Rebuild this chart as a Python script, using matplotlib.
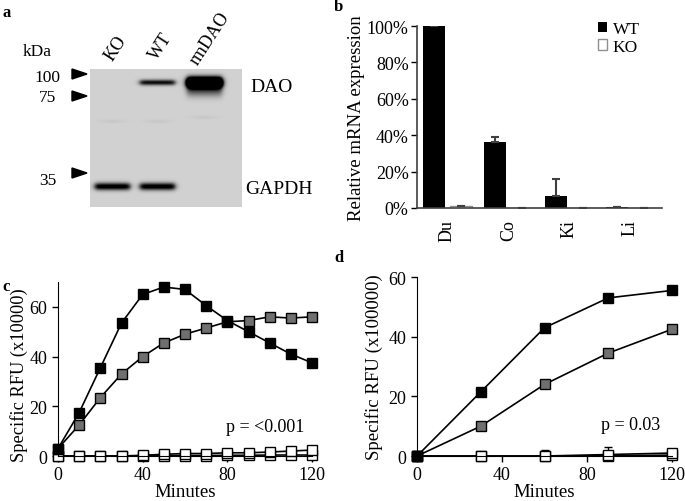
import numpy as np
import matplotlib
matplotlib.use("Agg")
from matplotlib import pyplot as plt
from matplotlib.patches import Polygon
from matplotlib.ticker import PercentFormatter

plt.rcParams["font.family"] = ["Liberation Serif", "DejaVu Serif"]
plt.rcParams["font.size"] = 13
plt.rcParams["axes.labelsize"] = 13.5

# ---- data ----
# panel a: western blot
lanes = ["KO", "WT", "rmDAO"]
kda_marks = ["100", "75", "35"]
band_lane = [1, 2, 2, 0, 1]
band_row = [13, 13, 21, 117, 117]
band_strength = [0.95, 3.0, 0.55, 1.1, 1.1]
band_thick = [2.0, 3.6, 4.5, 2.6, 2.6]

# panel b: relative mRNA expression
tissues = ["Du", "Co", "Ki", "Li"]
wt_expr = [1.00, 0.36, 0.065, 0.003]
wt_err = [0.0, 0.03, 0.095, 0.0]
ko_expr = [0.01, 0.0, 0.0, 0.0]
ko_err = [0.003, 0.0, 0.0, 0.0]

# panel c: kinetics, 10 min steps
t_c = [0, 10, 20, 30, 40, 50, 60, 70, 80, 90, 100, 110, 120]
c_black = [3, 17.5, 35.5, 53.5, 65, 68, 67, 60.5, 54.5, 50, 45.5, 41, 37.5]
c_gray = [3, 12.5, 23.5, 33, 40, 45.5, 49, 51.5, 54, 54.5, 56, 55.5, 56]
c_white = [0, 0, 0, 0, 0.3, 0.7, 1.0, 1.0, 1.3, 1.3, 1.6, 2.0, 2.4]
c_white2 = [0, 0, 0, 0, 0, 0.1, 0.2, 0.2, 0.3, 0.3, 0.4, 0.4, 0.4]

# panel d: kinetics, 30 min steps
t_d = [0, 30, 60, 90, 120]
d_black = [0, 21.5, 43, 53, 55.5]
d_gray = [0, 10, 24, 34.5, 42.5]
d_white = [0, 0, 0, 0.5, 1.0]
d_white_err = [0, 1.2, 2.0, 2.5, 0.3]
d_white2 = [0, 0, 0, 0.1, 0.3]

fig = plt.figure(figsize=(6.85, 5.02), dpi=100)

# ---- panel a (drawn in pixel coordinates) ----
axa = fig.add_axes([0, 0, 1, 1])
blot_h, blot_w = 138, 152
lane_x = [22, 67, 114]
rows = np.arange(blot_h)[:, None]
cols = np.arange(blot_w)[None, :]
dark = np.zeros((blot_h, blot_w))
for ln, r0, s, th in zip(band_lane, band_row, band_strength, band_thick):
    xprof = 1 / (1 + np.exp(-(17.5 - np.abs(cols - lane_x[ln])) / 1.5))
    yprof = np.exp(-0.5 * ((rows - r0) / th) ** 2)
    dark += s * xprof * yprof
# faint smudges between the bands
for lx, r0 in zip(lane_x, [52, 52, 48]):
    xprof = np.exp(-0.5 * ((cols - lx) / 9) ** 2)
    dark += 0.05 * xprof * np.exp(-0.5 * ((rows - r0) / 1.2) ** 2)
img = 0.82 - 0.82 * np.clip(dark, 0, 1)
axa.imshow(img, cmap="gray", vmin=0, vmax=1, extent=(90, 242, 208, 70),
           aspect="auto", interpolation="bilinear")
axa.set_xlim(0, 685)
axa.set_ylim(502, 0)
axa.axis("off")

for lab, x, y in zip(lanes, [116, 160, 201], [64, 63, 68]):
    axa.text(x, y, lab, rotation=57, rotation_mode="anchor",
             ha="left", va="bottom", fontsize=13)
axa.text(37, 52, "kDa", ha="center", va="center", fontsize=12.5)
for lab, ty, ay in zip(kda_marks, [78, 98, 181], [75, 97, 174]):
    axa.text(60 if lab == "100" else 56, ty, lab, ha="right", va="center",
             fontsize=12.5)
    axa.add_patch(Polygon([[72, ay - 5], [72, ay + 5], [87, ay]],
                          closed=True, color="black"))
axa.text(250, 87, "DAO", ha="left", va="center", fontsize=14)
axa.text(245, 190, "GAPDH", ha="left", va="center", fontsize=14)

fig.text(0.004, 0.975, "a", fontweight="bold", fontsize=12, va="center")
fig.text(0.488, 0.986, "b", fontweight="bold", fontsize=12, va="center")
fig.text(0.004, 0.428, "c", fontweight="bold", fontsize=12, va="center")
fig.text(0.488, 0.486, "d", fontweight="bold", fontsize=12, va="center")

# ---- panel b ----
axb = fig.add_axes([0.6088, 0.5837, 0.3577, 0.3625])
x = np.arange(len(tissues))
axb.bar(x - 0.22, wt_expr, 0.36, color="black", label="WT",
        yerr=[np.zeros(4), wt_err], capsize=3,
        error_kw=dict(ecolor="#404040", elinewidth=1.5, capthick=1.5))
axb.bar(x + 0.22, ko_expr, 0.36, color="white", edgecolor="#909090",
        linewidth=1, label="KO", yerr=[np.zeros(4), ko_err], capsize=3,
        error_kw=dict(ecolor="#404040", elinewidth=1.5, capthick=1.5))
axb.set_xlim(-0.5, 3.52)
axb.set_ylim(0, 1)
axb.set_yticks(np.arange(0, 1.01, 0.2))
axb.yaxis.set_major_formatter(PercentFormatter(1, decimals=0))
axb.set_xticks(x)
axb.set_xticklabels(tissues, rotation=90)
axb.tick_params(axis="x", length=0, pad=8)
axb.tick_params(axis="y", length=4, width=1, pad=2)
for s in ["top", "right"]:
    axb.spines[s].set_visible(False)
for s in ["left", "bottom"]:
    axb.spines[s].set_color("#404040")
    axb.spines[s].set_linewidth(1.2)
axb.set_ylabel("Relative mRNA expression", labelpad=1)
axb.legend(loc="upper left", bbox_to_anchor=(0.71, 1.065), frameon=False,
           handlelength=0.55, handleheight=0.55, handletextpad=0.3,
           labelspacing=0.1, fontsize=12.5, borderaxespad=0)


def kinetics(ax, t, black, gray, white, white2, ylim):
    kw = dict(color="black", lw=1.2, marker="s", ms=6.5, mec="black",
              mew=1, clip_on=False)
    ax.plot(t, white2, mfc="white", **kw)
    ax.plot(t, white, mfc="white", **kw)
    ax.plot(t, gray, mfc="#707070", **kw)
    ax.plot(t, black, mfc="black", **kw)
    ax.set_xlim(0, 120)
    ax.set_ylim(0, ylim)
    ax.set_xticks([0, 40, 80, 120])
    ax.set_yticks([0, 20, 40, 60])
    for s in ["top", "right"]:
        ax.spines[s].set_visible(False)
    ax.tick_params(length=4, width=1)
    ax.set_xlabel("Minutes", labelpad=0)


# ---- panel c ----
axc = fig.add_axes([0.0847, 0.0896, 0.3708, 0.3466])
kinetics(axc, t_c, c_black, c_gray, c_white, c_white2, 70)
axc.set_ylabel("Specific RFU (x10000)", fontsize=13.2)
axc.yaxis.set_label_coords(-0.118, 0.47)
axc.text(116.5, 12, "p = <0.001", ha="right", va="center")

# ---- panel d ----
axd = fig.add_axes([0.6088, 0.0896, 0.3723, 0.3566])
axd.errorbar(t_d, d_white, yerr=[np.zeros(5), d_white_err], fmt="none",
             ecolor="black", elinewidth=1, capsize=3, zorder=1)
kinetics(axd, t_d, d_black, d_gray, d_white, d_white2, 60)
axd.set_ylabel("Specific RFU (x100000)", labelpad=4)
axd.text(114.5, 10.7, "p = 0.03", ha="right", va="center")

fig.savefig("out.png", dpi=100)
